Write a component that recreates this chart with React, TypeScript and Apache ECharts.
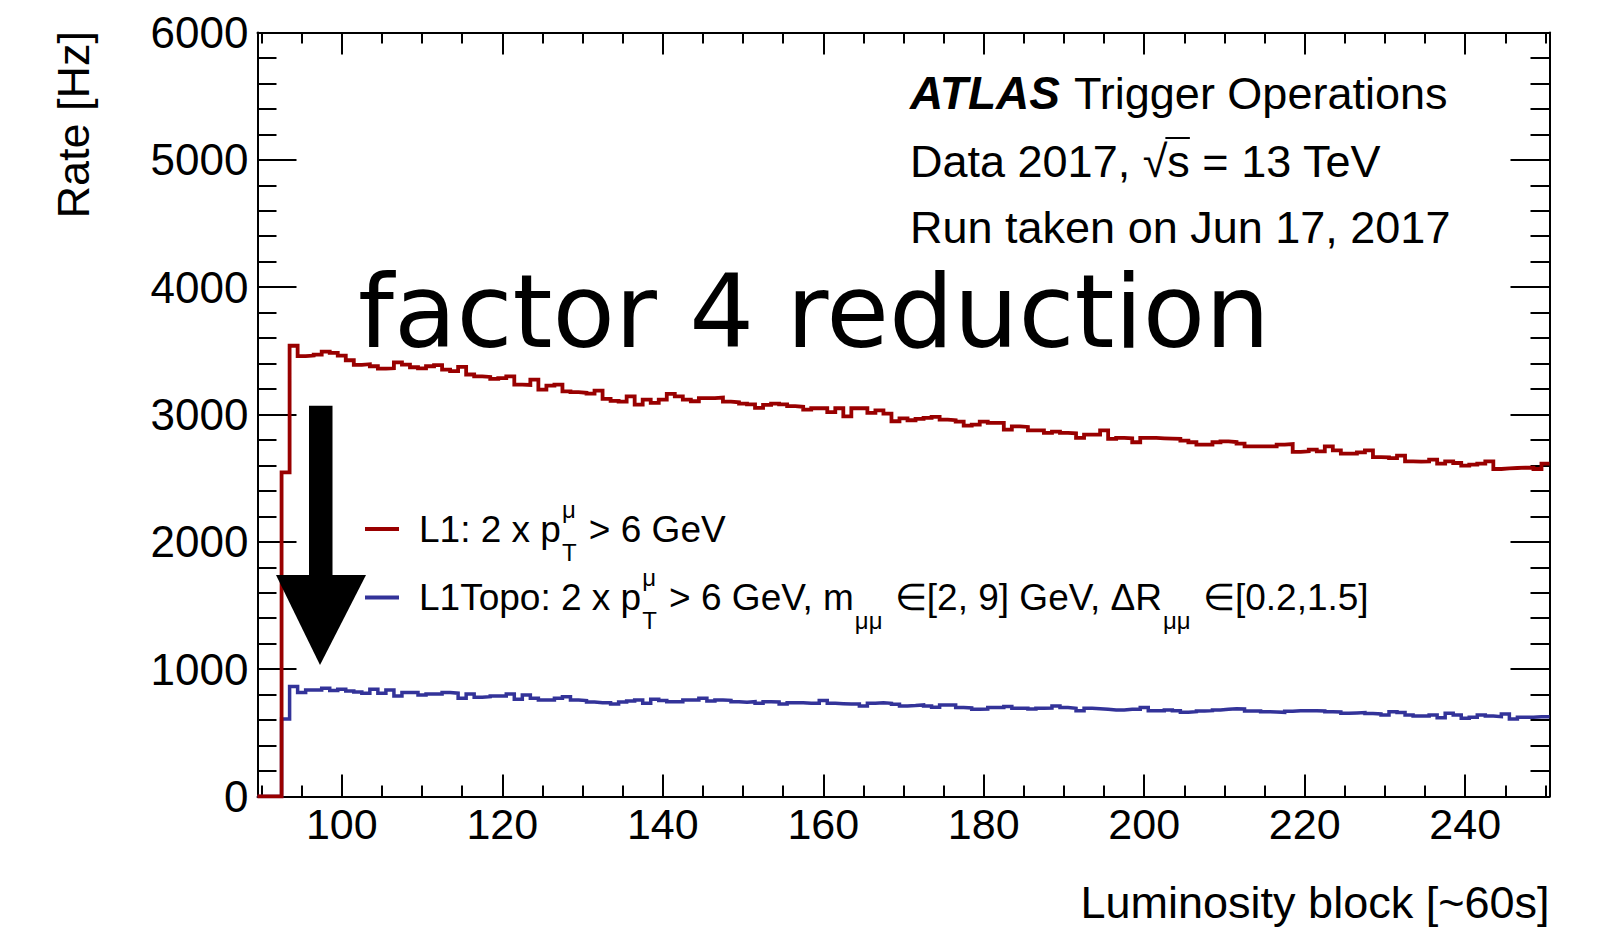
import React, { useEffect, useRef } from 'react';
import * as echarts from 'echarts';

// ---------- data ----------
const FIRST_LB = 90; // first luminosity block (bin centred on integer LB)

// L1: 2 x pT(mu) > 6 GeV  — rate per luminosity block [Hz], LB 90..250
const l1Rate = [
  0, 0, 0, 2546, 3540, 3458, 3463, 3471, 3494, 3484,
  3463, 3426, 3390, 3395, 3379, 3361, 3363, 3410, 3392, 3371,
  3363, 3379, 3387, 3353, 3340, 3374, 3314, 3300, 3295, 3279,
  3285, 3300, 3235, 3232, 3274, 3196, 3227, 3235, 3182, 3175,
  3170, 3164, 3188, 3122, 3107, 3101, 3143, 3078, 3117, 3091,
  3117, 3162, 3143, 3117, 3104, 3128, 3128, 3133, 3101, 3096,
  3086, 3080, 3052, 3075, 3086, 3080, 3065, 3060, 3039, 3049,
  3049, 3018, 3049, 2986, 3049, 3049, 3012, 3033, 3007, 2947,
  2970, 2955, 2965, 2973, 2981, 2960, 2955, 2944, 2913, 2921,
  2944, 2934, 2934, 2881, 2907, 2902, 2876, 2876, 2855, 2866,
  2855, 2852, 2816, 2842, 2842, 2876, 2808, 2816, 2813, 2782,
  2816, 2816, 2813, 2810, 2808, 2795, 2782, 2763, 2763, 2782,
  2789, 2784, 2771, 2750, 2750, 2750, 2750, 2763, 2768, 2706,
  2711, 2724, 2711, 2750, 2719, 2692, 2692, 2703, 2719, 2666,
  2664, 2658, 2677, 2632, 2630, 2632, 2645, 2614, 2632, 2619,
  2598, 2606, 2614, 2632, 2572, 2577, 2580, 2582, 2582, 2572,
  2614,
];

// L1Topo — rate per luminosity block [Hz], LB 90..250
const l1TopoRate = [
  0, 0, 0, 609, 863, 816, 837, 837, 850, 832,
  842, 829, 821, 811, 842, 811, 837, 790, 816, 816,
  798, 805, 805, 816, 811, 771, 805, 779, 784, 790,
  790, 805, 763, 798, 771, 758, 758, 771, 784, 758,
  753, 742, 737, 737, 727, 742, 750, 758, 732, 763,
  753, 745, 745, 758, 758, 771, 750, 758, 755, 745,
  740, 745, 732, 745, 742, 727, 737, 737, 732, 732,
  753, 732, 729, 727, 727, 711, 732, 737, 732, 724,
  711, 714, 719, 711, 701, 719, 719, 698, 695, 685,
  687, 698, 698, 706, 693, 693, 687, 693, 695, 711,
  698, 693, 674, 693, 690, 685, 680, 680, 685, 685,
  698, 674, 674, 680, 674, 662, 666, 672, 674, 680,
  685, 690, 687, 672, 672, 666, 664, 661, 669, 674,
  674, 674, 672, 666, 664, 653, 656, 659, 651, 648,
  640, 666, 659, 640, 632, 632, 640, 619, 653, 640,
  614, 622, 640, 632, 627, 648, 609, 622, 622, 627,
  627,
];

const xMajorTicks = [100, 120, 140, 160, 180, 200, 220, 240];
const xMinorTicks = [90, 95, 105, 110, 115, 125, 130, 135, 145, 150, 155, 165, 170, 175,
  185, 190, 195, 205, 210, 215, 225, 230, 235, 245, 250];
const yMin = 0;
const yMax = 6000;
const yStep = 1000;

const xTitle = 'Luminosity block [~60s]';
const yTitle = 'Rate [Hz]';
const titleBold = 'ATLAS';
const titleRest = 'Trigger Operations';
const line2a = 'Data 2017, √';
const line2s = 's';
const line2b = ' = 13 TeV';
const line3 = 'Run taken on Jun 17, 2017';
const annotation = 'factor 4 reduction';

type Part = { main?: string; sup?: string; sub?: string };
const legendL1: Part[] = [
  { main: 'L1: 2 x p' }, { sup: 'μ', sub: 'T' }, { main: ' > 6 GeV' },
];
const legendTopo: Part[] = [
  { main: 'L1Topo: 2 x p' }, { sup: 'μ', sub: 'T' }, { main: ' > 6 GeV, m' },
  { sub: 'μμ' }, { main: ' ∈[2, 9] GeV, ΔR' }, { sub: 'μμ' }, { main: ' ∈[0.2,1.5]' },
];

const RED = '#990000';
const BLUE = '#333399';
const FONT = '"Liberation Sans", Arial, Helvetica, sans-serif';

function toSteps(vals: number[]): [number, number][] {
  const pts: [number, number][] = vals.map((v, i) => [FIRST_LB - 0.5 + i, v]);
  pts.push([FIRST_LB - 0.5 + vals.length, vals[vals.length - 1]]);
  return pts;
}

let measureCtx: CanvasRenderingContext2D | null = null;
function tw(text: string, size: number, weight = 'normal', style = 'normal', family = FONT) {
  if (!measureCtx) measureCtx = document.createElement('canvas').getContext('2d');
  measureCtx!.font = `${style} ${weight} ${size}px ${family}`;
  return measureCtx!.measureText(text).width;
}

function txt(x: number, y: number, text: string, size: number, extra: any = {}) {
  return {
    type: 'text', x, y, z: 100,
    style: {
      text, fontSize: size, fontFamily: FONT, fill: '#000',
      textAlign: 'left', textVerticalAlign: 'middle', ...extra,
    },
  };
}

const MAIN = 37;
const SCRIPT = 24;
const TITLE = 45;

function legendRow(yc: number, color: string, parts: Part[]) {
  const els: any[] = [];
  els.push({ type: 'line', z: 100, shape: { x1: 365, y1: yc, x2: 399, y2: yc }, style: { stroke: color, lineWidth: 4 } });
  let x = 419;
  for (const p of parts) {
    if (p.main) {
      els.push(txt(x, yc, p.main, MAIN));
      x += tw(p.main, MAIN);
    } else {
      let w = 0;
      if (p.sup) { els.push(txt(x + 1, yc - 20, p.sup, SCRIPT)); w = Math.max(w, tw(p.sup, SCRIPT)); }
      if (p.sub) { els.push(txt(x + 1, yc + 23, p.sub, SCRIPT)); w = Math.max(w, tw(p.sub, SCRIPT)); }
      x += w + 3;
    }
  }
  return els;
}

export default function App() {
  const ref = useRef<HTMLDivElement>(null);
  useEffect(() => {
    if (!ref.current) return;
    const chart = echarts.init(ref.current, undefined, { renderer: 'svg' });
    const xMin = FIRST_LB - 0.5;
    const xMax = FIRST_LB - 0.5 + l1Rate.length;
    const axisLS = { color: '#000', width: 2 };
    const baseX = (position: string, ticks: number[], len: number, labels: boolean, line: boolean) => ({
      type: 'value', min: xMin, max: xMax, position,
      axisLine: { show: line, onZero: false, lineStyle: axisLS },
      axisTick: { show: true, inside: true, length: len, customValues: ticks, lineStyle: axisLS },
      axisLabel: labels
        ? { show: true, customValues: ticks, fontSize: 43, fontFamily: FONT, color: '#000', margin: 6,
            formatter: (v: number) => String(v) }
        : { show: false },
      splitLine: { show: false },
    });
    const baseY = (position: string, labels: boolean) => ({
      type: 'value', min: yMin, max: yMax, interval: yStep, position,
      axisLine: { show: true, onZero: false, lineStyle: axisLS },
      axisTick: { show: true, inside: true, length: 39, lineStyle: axisLS },
      minorTick: { show: true, splitNumber: 5, length: 19, lineStyle: axisLS },
      axisLabel: labels
        ? { show: true, fontSize: 44, fontFamily: FONT, color: '#000', margin: 9,
            formatter: (v: number) => String(v) }
        : { show: false },
      splitLine: { show: false },
    });

    const l2x = 910;
    const wA = tw(line2a, TITLE);
    const wS = tw(line2s, TITLE);

    const graphics: any[] = [
      // titles
      txt(910, 93, titleBold, 46, { fontWeight: 'bold', fontStyle: 'italic' }),
      txt(1074, 93, titleRest, TITLE),
      txt(l2x, 161, line2a + line2s + line2b, TITLE),
      { type: 'line', z: 100, shape: { x1: l2x + wA - 2, y1: 138, x2: l2x + wA + wS, y2: 138 }, style: { stroke: '#000', lineWidth: 2 } },
      txt(910, 227, line3, TITLE),
      // annotation
      txt(358, 311, annotation, 102, { fontFamily: '"DejaVu Sans", sans-serif' }),
      // axis titles
      txt(1549.5, 902, xTitle, 45, { textAlign: 'right' }),
      { type: 'text', x: 73, y: 31, rotation: Math.PI / 2, z: 100,
        style: { text: yTitle, fontSize: 45, fontFamily: FONT, fill: '#000', textAlign: 'right', textVerticalAlign: 'middle' } },
      // arrow
      { type: 'rect', z: 90, shape: { x: 309, y: 405.7, width: 23.5, height: 170 }, style: { fill: '#000' } },
      { type: 'polygon', z: 90, shape: { points: [[276, 575], [366, 575], [320, 665]] }, style: { fill: '#000' } },
      ...legendRow(529, RED, legendL1),
      ...legendRow(597.5, BLUE, legendTopo),
    ];

    chart.setOption({
      animation: false,
      backgroundColor: '#fff',
      grid: { left: 257.5, right: 54.5, top: 32.5, bottom: 131.5, containLabel: false },
      xAxis: [
        baseX('bottom', xMajorTicks, 22, true, true),
        baseX('bottom', xMinorTicks, 11, false, false),
        baseX('top', xMajorTicks, 22, false, true),
        baseX('top', xMinorTicks, 11, false, false),
      ],
      yAxis: [baseY('left', true), baseY('right', false)],
      series: [
        {
          name: 'L1Topo', type: 'line', xAxisIndex: 0, yAxisIndex: 0, step: 'end',
          data: toSteps(l1TopoRate), symbol: 'none', silent: true,
          lineStyle: { color: BLUE, width: 3.5, join: 'miter', cap: 'butt' },
        },
        {
          name: 'L1', type: 'line', xAxisIndex: 0, yAxisIndex: 0, step: 'end',
          data: toSteps(l1Rate), symbol: 'none', silent: true,
          lineStyle: { color: RED, width: 3.8, join: 'miter', cap: 'butt' },
        },
      ],
      graphic: graphics,
    });
    return () => chart.dispose();
  }, []);
  return (
    <div
      ref={ref}
      style={{ position: 'fixed', left: 0, top: 0, width: 1604, height: 928, background: '#fff' }}
    />
  );
}
